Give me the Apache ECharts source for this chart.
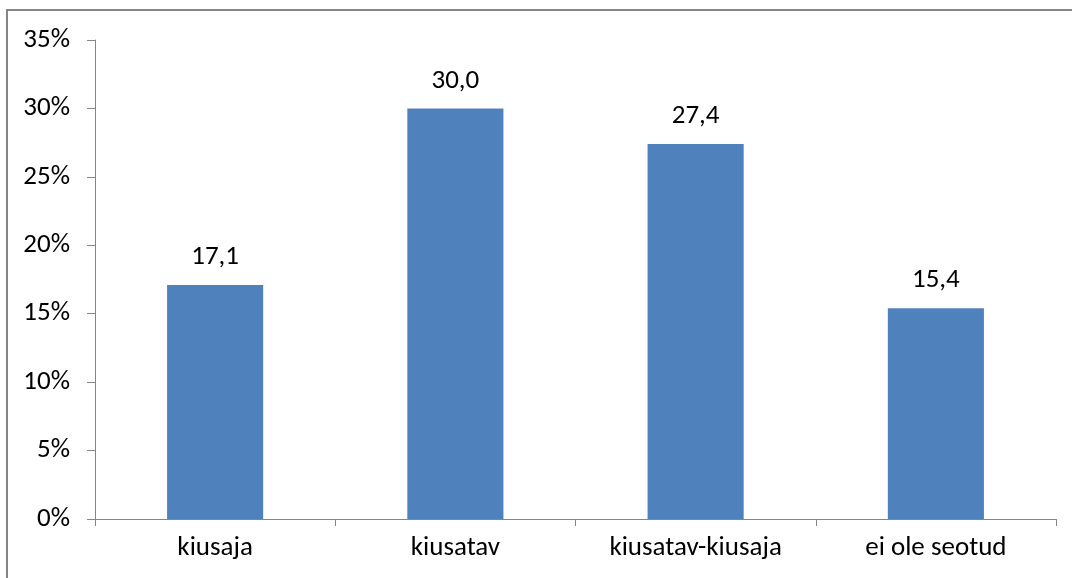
<!DOCTYPE html>
<html>
<head>
<meta charset="utf-8">
<script src="https://cdn.jsdelivr.net/npm/echarts@6/dist/echarts.min.js"></script>
<style>
  html, body { margin: 0; padding: 0; background: #fff; }
  #main { width: 1072px; height: 578px; }
</style>
</head>
<body>
<div id="main"></div>
<script>
// andmed
var categories = ['kiusaja', 'kiusatav', 'kiusatav-kiusaja', 'ei ole seotud'];
var values = [17.1, 30.0, 27.4, 15.4];
var yTicks = [0, 5, 10, 15, 20, 25, 30, 35];

var fontFam = 'Carlito, Lato, "Open Sans", sans-serif';
var fs = 27;
var chart = echarts.init(document.getElementById('main'));
chart.setOption({
    animation: false,
    textStyle: { fontFamily: fontFam },
    grid: { left: 95, top: 40, right: 16, bottom: 59 },
    graphic: [{
        type: 'rect',
        shape: { x: 7, y: 10, width: 1100, height: 600 },
        style: { fill: 'none', stroke: '#868686', lineWidth: 2 },
        silent: true
    }],
    xAxis: {
        type: 'category',
        data: categories,
        axisLine: { lineStyle: { color: '#868686', width: 1 } },
        axisTick: { show: true, alignWithLabel: false, length: 7, lineStyle: { color: '#868686' } },
        axisLabel: { color: '#000', fontSize: fs, margin: 16, fontFamily: fontFam }
    },
    yAxis: {
        type: 'value',
        min: yTicks[0],
        max: yTicks[yTicks.length - 1],
        interval: 5,
        axisLine: { show: true, lineStyle: { color: '#868686', width: 1 } },
        axisTick: { show: true, length: 8, lineStyle: { color: '#868686' } },
        splitLine: { show: false },
        axisLabel: {
            color: '#000', fontSize: fs, margin: 25, fontFamily: fontFam,
            formatter: function (v) { return v + '%'; }
        }
    },
    series: [{
        type: 'bar',
        data: values,
        barWidth: '40%',
        itemStyle: { color: '#4F81BD' },
        label: {
            show: true,
            position: 'top',
            distance: 14,
            color: '#000',
            fontSize: fs,
            fontFamily: fontFam,
            formatter: function (p) { return p.value.toFixed(1).replace('.', ','); }
        }
    }]
});
</script>
</body>
</html>
